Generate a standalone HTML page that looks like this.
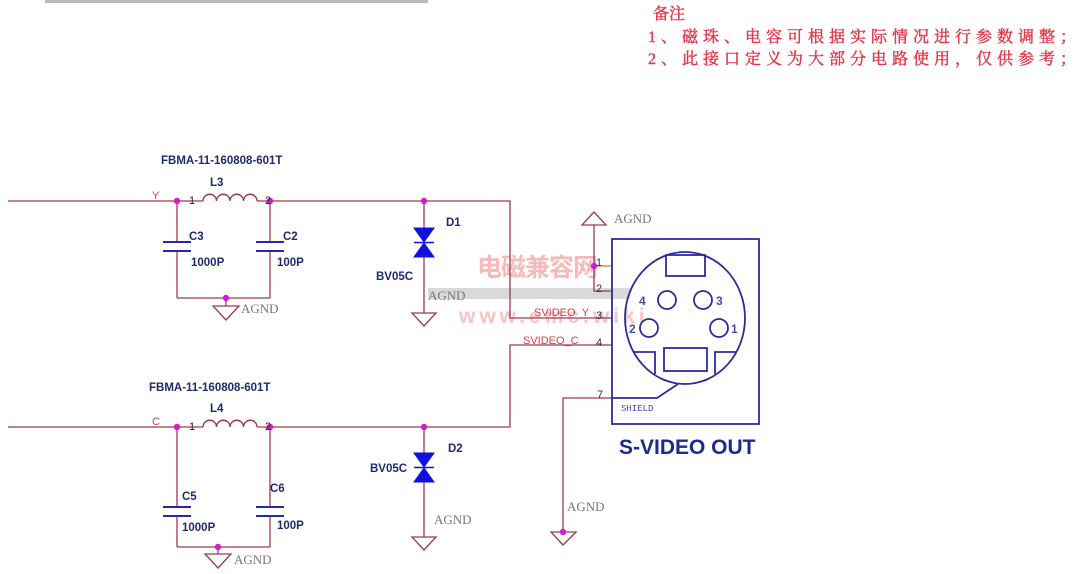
<!DOCTYPE html>
<html><head><meta charset="utf-8">
<style>
html,body{margin:0;padding:0;background:#fff;}
body{width:1080px;height:574px;overflow:hidden;position:relative;}
svg{position:absolute;left:0;top:0;}
.lab{font-family:"Liberation Sans",Arial,sans-serif;font-weight:bold;fill:#1f2a6e;font-size:11.5px;}
.gnd{font-family:"Liberation Serif",serif;fill:#777;font-size:13px;}
.pin{font-family:"Liberation Sans",sans-serif;fill:#333;font-size:11px;}
</style></head><body>
<svg width="1080" height="574" viewBox="0 0 1080 574" xmlns="http://www.w3.org/2000/svg">
<!-- top gray bar -->
<line x1="45" y1="1.5" x2="428" y2="1.5" stroke="#bbb" stroke-width="3"/>

<!-- notes -->
<g font-family="'Liberation Serif','Noto Serif CJK SC',serif" fill="#e23a4a" stroke="#e23a4a" stroke-width="0.45" font-size="16">
<text x="653" y="19">备注</text>
<text x="648" y="42" letter-spacing="5">1、磁珠、电容可根据实际情况进行参数调整；</text>
<text x="648" y="64" letter-spacing="5">2、此接口定义为大部分电路使用，仅供参考；</text>
</g>

<!-- watermark -->
<rect x="428" y="288" width="202" height="11" fill="#d2d2d2" opacity="0.85"/>
<text x="477" y="276" font-family="'Noto Sans CJK SC',sans-serif" font-weight="bold" font-size="25" fill="#f7baba" letter-spacing="-1">电磁兼容网</text>
<text x="459" y="323" font-family="'Liberation Sans',sans-serif" font-weight="bold" font-size="21" fill="#f8c4c4" letter-spacing="4">www.emc.wiki</text>

<g stroke="#9a3a50" stroke-width="1.3" fill="none">
<!-- Y line -->
<polyline points="8,201 203,201"/>
<polyline points="257,201 510,201 510,318 612,318"/>
<!-- C3 C2 -->
<line x1="177" y1="201" x2="177" y2="242"/>
<line x1="177" y1="251" x2="177" y2="298"/>
<line x1="270" y1="201" x2="270" y2="242"/>
<line x1="270" y1="251" x2="270" y2="298"/>
<line x1="177" y1="298" x2="270" y2="298"/>
<line x1="226" y1="298" x2="226" y2="306"/>
<polygon points="213,306 239,306 226,320"/>
<!-- D1 -->
<line x1="424" y1="201" x2="424" y2="228"/>
<line x1="424" y1="257" x2="424" y2="313"/>
<polygon points="412,313 436,313 424,326"/>

<!-- C line -->
<polyline points="8,427 203,427"/>
<polyline points="257,427 510,427 510,345 612,345"/>
<line x1="177" y1="427" x2="177" y2="507"/>
<line x1="177" y1="516" x2="177" y2="547"/>
<line x1="270" y1="427" x2="270" y2="507"/>
<line x1="270" y1="516" x2="270" y2="547"/>
<line x1="177" y1="547" x2="270" y2="547"/>
<line x1="218" y1="547" x2="218" y2="554"/>
<polygon points="205,554 231,554 218,568"/>
<!-- D2 -->
<line x1="424" y1="427" x2="424" y2="453"/>
<line x1="424" y1="482" x2="424" y2="537"/>
<polygon points="412,537 436,537 424,550"/>

<!-- connector AGND -->
<polygon points="582,225 606,225 594,212"/>
<polyline points="594,225 594,291 612,291"/>
<line x1="594" y1="266" x2="612" y2="266" stroke="#c8813a"/>
<!-- pin 7 -->
<polyline points="612,398 563,398 563,532"/>
<polygon points="551,532 576,532 563,545"/>
</g>

<!-- inductors -->
<g stroke="#9a3a50" stroke-width="1.4" fill="none">
<path d="M203,201 a6.75,6.75 0 0 1 13.5,0 a6.75,6.75 0 0 1 13.5,0 a6.75,6.75 0 0 1 13.5,0 a6.75,6.75 0 0 1 13.5,0"/>
<path d="M203,427 a6.75,6.75 0 0 1 13.5,0 a6.75,6.75 0 0 1 13.5,0 a6.75,6.75 0 0 1 13.5,0 a6.75,6.75 0 0 1 13.5,0"/>
</g>

<!-- capacitor plates -->
<g stroke="#2a2aa0" stroke-width="2">
<line x1="163" y1="242" x2="191" y2="242"/><line x1="163" y1="251" x2="191" y2="251"/>
<line x1="256" y1="242" x2="284" y2="242"/><line x1="256" y1="251" x2="284" y2="251"/>
<line x1="163" y1="507" x2="191" y2="507"/><line x1="163" y1="516" x2="191" y2="516"/>
<line x1="256" y1="507" x2="284" y2="507"/><line x1="256" y1="516" x2="284" y2="516"/>
</g>

<!-- diodes -->
<g fill="#1010e0" stroke="#1010e0" stroke-width="1">
<polygon points="414,228 434,228 424,242"/>
<polygon points="414,257 434,257 424,243"/>
<line x1="414" y1="242.5" x2="434" y2="242.5" stroke-width="1.5"/>
<polygon points="414,453 434,453 424,467"/>
<polygon points="414,482 434,482 424,468"/>
<line x1="414" y1="467.5" x2="434" y2="467.5" stroke-width="1.5"/>
</g>

<!-- junction dots -->
<g fill="#d21fc8">
<circle cx="177" cy="201" r="3.2"/><circle cx="270" cy="201" r="3.2"/><circle cx="226" cy="298" r="3.2"/>
<circle cx="424" cy="201" r="3.2"/><circle cx="594" cy="266" r="3.2"/>
<circle cx="177" cy="427" r="3.2"/><circle cx="270" cy="427" r="3.2"/><circle cx="218" cy="547" r="3.2"/>
<circle cx="424" cy="427" r="3.2"/><circle cx="563" cy="532" r="3.2"/>
</g>

<!-- connector -->
<g stroke="#2c2c9a" stroke-width="1.8" fill="none">
<rect x="612" y="239" width="147" height="185"/>
<ellipse cx="685" cy="318" rx="60" ry="66"/>
<rect x="666" y="255" width="39" height="21"/>
<rect x="664" y="348" width="43" height="23"/>
<circle cx="667" cy="300" r="9"/>
<circle cx="703" cy="300" r="9"/>
<circle cx="649" cy="328" r="9"/>
<circle cx="719" cy="328" r="9"/>
<polyline points="634,352 655,352 655,374"/>
<polyline points="737,352 715,352 715,374"/>
<polyline points="678,384 657,398 612,398"/>
</g>
<g font-family="'Liberation Sans',sans-serif" font-weight="bold" fill="#4a4aa8" font-size="12">
<text x="639" y="305">4</text><text x="716" y="305">3</text>
<text x="629" y="333">2</text><text x="731" y="333">1</text>
</g>
<text x="621" y="411" font-family="'Liberation Mono',monospace" font-size="9" fill="#4a4ab0">SHIELD</text>
<text x="619" y="454" font-family="'Liberation Sans',sans-serif" font-weight="bold" font-size="21" fill="#1f2a8e">S-VIDEO OUT</text>

<!-- pin numbers -->
<g class="pin">
<text x="596" y="266">1</text><text x="596" y="292">2</text><text x="596" y="319">3</text><text x="596" y="346">4</text><text x="597" y="398">7</text>
</g>
<g font-family="'Liberation Sans',sans-serif" fill="#d0404a" font-size="11">
<text x="534" y="316">SVIDEO_Y</text>
<text x="523" y="344">SVIDEO_C</text>
</g>

<!-- labels -->
<g class="lab">
<text x="161" y="164">FBMA-11-160808-601T</text>
<text x="210" y="186">L3</text>
<text x="189" y="240">C3</text>
<text x="191" y="266">1000P</text>
<text x="283" y="240">C2</text>
<text x="277" y="266">100P</text>
<text x="446" y="226">D1</text>
<text x="376" y="280">BV05C</text>

<text x="149" y="391">FBMA-11-160808-601T</text>
<text x="210" y="412">L4</text>
<text x="182" y="500">C5</text>
<text x="182" y="531">1000P</text>
<text x="270" y="492">C6</text>
<text x="277" y="529">100P</text>
<text x="448" y="452">D2</text>
<text x="370" y="472">BV05C</text>
</g>
<g font-family="'Liberation Sans',sans-serif" font-size="11">
<text x="189" y="204" fill="#222">1</text><text x="265" y="204" fill="#222">2</text>
<text x="189" y="430" fill="#222">1</text><text x="265" y="430" fill="#222">2</text>
<text x="152" y="199" fill="#d0404a">Y</text>
<text x="152" y="425" fill="#d0404a">C</text>
</g>
<g class="gnd">
<text x="241" y="313">AGND</text>
<text x="428" y="300">AGND</text>
<text x="614" y="223">AGND</text>
<text x="234" y="564">AGND</text>
<text x="434" y="524">AGND</text>
<text x="567" y="511">AGND</text>
</g>
</svg>
</body></html>
